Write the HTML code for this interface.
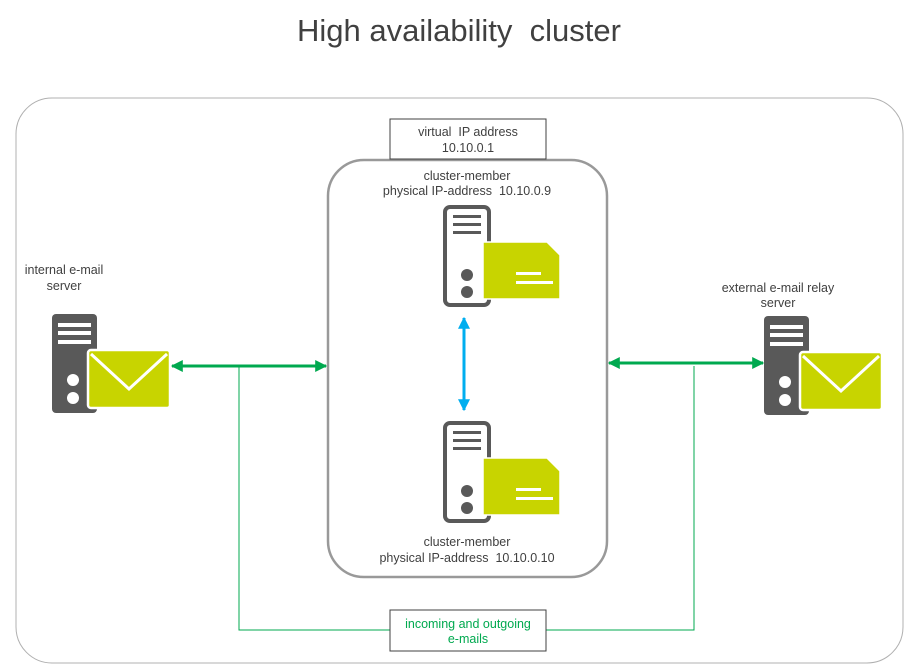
<!DOCTYPE html>
<html><head><meta charset="utf-8"><style>
body{margin:0;background:#fff;}
svg{display:block;font-family:"Liberation Sans",Arial,sans-serif;}
text{white-space:pre;}
</style></head><body>
<svg width="906" height="666" viewBox="0 0 906 666" xmlns="http://www.w3.org/2000/svg" xml:space="preserve">
<defs>
<marker id="ag" viewBox="0 0 10 10" refX="9" refY="5" markerWidth="4" markerHeight="4" orient="auto-start-reverse"><path d="M0,0 L10,5 L0,10 z" fill="#00a94f"/></marker>
<marker id="ab" viewBox="0 0 10 10" refX="9" refY="5" markerWidth="4" markerHeight="4" orient="auto-start-reverse"><path d="M0,0 L10,5 L0,10 z" fill="#00aeef"/></marker>
</defs>
<text x="459" y="41" text-anchor="middle" font-size="31" fill="#404040">High availability  cluster</text>
<rect x="16" y="98" width="887" height="565" rx="36" fill="#fff" stroke="#b0b0b0" stroke-width="1"/>
<polyline points="239,366 239,630 390,630" fill="none" stroke="#00a94f" stroke-width="1"/>
<polyline points="694,366 694,630 546,630" fill="none" stroke="#00a94f" stroke-width="1"/>
<rect x="390" y="610" width="156" height="41" fill="#fff" stroke="#404040" stroke-width="1"/>
<text x="468" y="628" text-anchor="middle" font-size="12.5" fill="#00a94f">incoming and outgoing</text>
<text x="468" y="643" text-anchor="middle" font-size="12.5" fill="#00a94f">e-mails</text>
<rect x="328" y="160" width="279" height="417" rx="36" fill="#fff" stroke="#999" stroke-width="2.5"/>
<rect x="390" y="119" width="156" height="40" fill="#fff" stroke="#404040" stroke-width="1"/>
<text x="468" y="136" text-anchor="middle" font-size="12.5" fill="#404040">virtual  IP address</text>
<text x="468" y="152" text-anchor="middle" font-size="12.5" fill="#404040">10.10.0.1</text>
<text x="467" y="180" text-anchor="middle" font-size="12.5" fill="#404040">cluster-member</text>
<text x="467" y="195" text-anchor="middle" font-size="12.5" fill="#404040">physical IP-address  10.10.0.9</text>
<text x="467" y="546" text-anchor="middle" font-size="12.5" fill="#404040">cluster-member</text>
<text x="467" y="562" text-anchor="middle" font-size="12.5" fill="#404040">physical IP-address  10.10.0.10</text>
<g id="cs">
<rect x="445" y="207" width="44" height="98" rx="5" fill="#fff" stroke="#595959" stroke-width="4"/>
<rect x="453" y="215" width="28" height="3" fill="#595959"/>
<rect x="453" y="223" width="28" height="3" fill="#595959"/>
<rect x="453" y="231" width="28" height="3" fill="#595959"/>
<circle cx="467" cy="275" r="6" fill="#595959"/>
<circle cx="467" cy="292" r="6" fill="#595959"/>
<path d="M483,242 L547,242 L560,255 L560,299 L483,299 z" fill="#c8d400" stroke="#fff" stroke-width="1.5"/>
<rect x="516" y="272" width="25" height="3" fill="#fff"/>
<rect x="516" y="281" width="37" height="3" fill="#fff"/>
</g>
<use href="#cs" transform="translate(0,216)"/>
<line x1="464" y1="318" x2="464" y2="410" stroke="#00aeef" stroke-width="3" marker-start="url(#ab)" marker-end="url(#ab)"/>
<line x1="172" y1="366" x2="326" y2="366" stroke="#00a94f" stroke-width="3" marker-start="url(#ag)" marker-end="url(#ag)"/>
<line x1="609" y1="363" x2="763" y2="363" stroke="#00a94f" stroke-width="3" marker-start="url(#ag)" marker-end="url(#ag)"/>
<text x="64" y="274" text-anchor="middle" font-size="12.5" fill="#404040">internal e-mail</text>
<text x="64" y="290" text-anchor="middle" font-size="12.5" fill="#404040">server</text>
<g id="ms">
<rect x="52" y="314" width="45" height="99" rx="4" fill="#595959"/>
<rect x="58" y="323" width="33" height="4" fill="#fff"/>
<rect x="58" y="331" width="33" height="4" fill="#fff"/>
<rect x="58" y="340" width="33" height="4" fill="#fff"/>
<circle cx="73" cy="380" r="6" fill="#fff"/>
<circle cx="73" cy="398" r="6" fill="#fff"/>
<rect x="88" y="350" width="82" height="58" rx="3" fill="#c8d400" stroke="#fff" stroke-width="2.5"/>
<polyline points="91,354 129,389 167,354" fill="none" stroke="#fff" stroke-width="3"/>
</g>
<text x="778" y="292" text-anchor="middle" font-size="12.5" fill="#404040">external e-mail relay</text>
<text x="778" y="307" text-anchor="middle" font-size="12.5" fill="#404040">server</text>
<use href="#ms" transform="translate(712,2)"/>
</svg>
</body></html>
